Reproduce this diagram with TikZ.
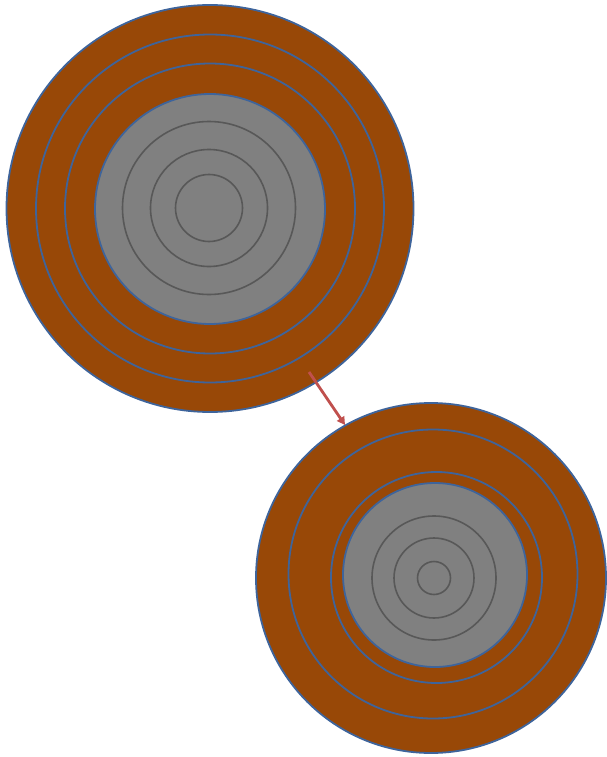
\documentclass[tikz,border=0pt]{standalone}
\usetikzlibrary{arrows.meta}
\definecolor{wood}{RGB}{152,72,7}
\definecolor{rim}{RGB}{62,100,155}
\definecolor{core}{RGB}{128,128,128}
\definecolor{grain}{RGB}{88,88,88}
\definecolor{arrowred}{RGB}{192,80,77}
\tikzset{
  ring/.style={fill=wood, draw=rim, line width=1.8pt},
  coredisk/.style={fill=core, draw=rim, line width=1.8pt},
  grainline/.style={draw=grain, line width=1.6pt},
  move/.style={draw=arrowred, line width=2.8pt, -{Triangle[length=8pt,width=8.5pt]}}
}
\begin{document}
\begin{tikzpicture}[x=1pt,y=-1pt]
\useasboundingbox (0,0) rectangle (606,757);
% first log
\draw[ring] (210,208.5) circle (203.5);
\draw[ring] (210,208.5) circle (174);
\draw[ring] (210,208.5) circle (145);
\draw[coredisk] (210,209) circle (115);
\draw[grainline] (209,208) circle (86.5);
\draw[grainline] (209,208) circle (58.5);
\draw[grainline] (209,208) circle (33.5);
% second log
\draw[ring] (431,578) circle (175);
\draw[ring] (433,574) circle (144.5);
\draw[ring] (436.5,577.5) circle (105.5);
\draw[coredisk] (435,575) circle (92);
\draw[grainline] (434,578) circle (62);
\draw[grainline] (434,578) circle (40);
\draw[grainline] (434,578) circle (16.5);
% arrow
\coordinate (from) at (309,372);
\coordinate (to) at (345,425);
\draw[move] (from) -- (to);
\end{tikzpicture}
\end{document}
